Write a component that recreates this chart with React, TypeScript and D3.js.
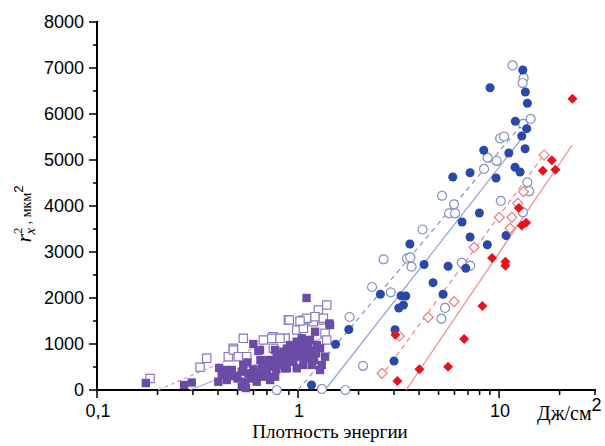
import React from 'react';
import * as d3 from 'd3';

// energy density (J/cm2) vs r_x^2 (um^2)
const purpleFilled: [number, number][] = [
  [0.175, 152], [0.271, 109], [0.296, 163], [0.405, 478], [0.417, 326], [0.442, 435],
  [0.45, 326], [0.401, 180], [0.534, 544], [0.525, 398], [0.566, 363], [0.545, 180],
  [0.551, 43], [0.525, 72], [0.599, 1000], [0.635, 848], [0.647, 870], [0.611, 289],
  [0.623, 363], [0.672, 289], [0.623, 180], [0.712, 652], [0.74, 507], [0.783, 761],
  [0.845, 833], [0.798, 544], [0.699, 326], [0.913, 978], [0.985, 1050], [1.043, 1124],
  [0.948, 615], [1.023, 724], [1.063, 544], [0.985, 472], [0.862, 472], [1.102, 2000],
  [1.215, 1267], [1.431, 1446], [1.147, 1087], [1.287, 907], [1.191, 689], [1.287, 435],
  [1.229, 798], [1.362, 724], [0.892, 804], [1.083, 870], [1.121, 978], [1.174, 544],
  [0.662, 544], [0.768, 870], [0.83, 724], [0.809, 580], [1.125, 1087], [1.239, 978],
  [1.443, 1413], [1.312, 544], [0.879, 472], [0.769, 289], [0.545, 72], [0.468, 435],
  [0.442, 217], [0.726, 217], [0.95, 850], [1.0, 900], [0.9, 650], [0.93, 700],
  [0.56, 600], [0.6, 450], [0.65, 650], [0.68, 500], [0.7, 400], [0.75, 650],
  [0.78, 450], [0.82, 650], [0.86, 600], [0.9, 800], [0.95, 750], [1.05, 850],
  [1.1, 700], [1.15, 850], [1.2, 650], [0.58, 250], [0.66, 420], [0.88, 900],
  [1.0, 1000], [1.05, 1000], [0.48, 300], [0.5, 250],
];

const purpleOpen: [number, number][] = [
  [0.1835, 250], [0.3255, 494], [0.3513, 689], [0.4499, 724], [0.4766, 907], [0.4766, 870],
  [0.5342, 1124], [0.5047, 724], [0.5556, 724], [0.6721, 1087], [0.7535, 1159], [0.8615, 1124],
  [0.7535, 907], [0.8949, 1522], [1.063, 1522], [0.985, 1304], [1.063, 1341], [1.191, 1485],
  [1.262, 1739], [1.389, 1848], [1.312, 1522], [1.362, 1233], [1.105, 1559], [1.215, 1594],
  [1.336, 1559], [0.74, 1124], [0.8138, 1124], [1.023, 1500], [1.389, 1087], [0.905, 1522],
];

const blueFilled: [number, number][] = [
  [13.12, 6957], [9.02, 6572], [13.51, 6478], [13.83, 6233], [12.05, 5841], [13.73, 5681],
  [12.97, 5522], [13.47, 5246], [8.39, 5211], [11.18, 5152], [12.01, 4841], [12.72, 4739],
  [5.885, 4631], [7.175, 4724], [9.66, 4609], [7.98, 3848], [6.545, 3652], [7.175, 3326],
  [10.83, 3359], [8.74, 3157], [3.6, 3174], [4.236, 2728], [5.576, 2689], [6.83, 2646],
  [4.695, 2333], [5.265, 2081], [2.568, 2081], [3.254, 2050], [3.434, 2044], [3.343, 1848],
  [3.17, 1783], [1.789, 1315], [1.537, 994], [3.038, 1311], [3.003, 630], [1.167, 109],
];

const blueOpen: [number, number][] = [
  [11.67, 7055], [13.24, 6783], [13.09, 6674], [14.35, 5892], [13.17, 5783], [10.12, 5468],
  [10.59, 5511], [8.76, 5050], [9.72, 4983], [8.42, 4805], [5.205, 4224], [5.97, 4037],
  [5.639, 3841], [6.04, 3841], [13.83, 4515], [14.1, 4320], [10.2, 4109], [13.14, 3863],
  [4.163, 3489], [2.664, 2841], [2.334, 2239], [2.892, 2124], [3.485, 2859], [3.62, 2881],
  [3.67, 2681], [6.52, 2768], [7.175, 2702], [5.387, 1783], [5.164, 1550], [1.804, 1587],
  [2.105, 526], [1.718, 0], [1.314, 22], [0.783, 0],
];

const redFilled: [number, number][] = [
  [23.16, 6333], [18.29, 4994], [16.5, 4768], [19.06, 4789], [12.53, 3957], [12.97, 3576],
  [13.62, 3637], [10.75, 2789], [10.75, 2702], [9.23, 2870], [8.26, 1826], [6.7, 1109],
  [5.576, 507], [4.013, 450], [3.119, 196], [3.049, 1202],
];

const redOpen: [number, number][] = [
  [16.75, 5109], [13.21, 4311], [12.39, 4059], [10.03, 3754], [11.57, 3754], [11.34, 3515],
  [7.51, 3102], [5.97, 1920], [4.435, 1580], [3.19, 1174], [2.618, 363],
];

// fitted lines: start and end points
const purpleDashFit: [number, number][] = [[0.201, 0], [1.287, 1522]];
const purpleSolidFit: [number, number][] = [[0.29, 0], [1.443, 1196]];
const blueDashFit: [number, number][] = [[1.0, 0], [14.1, 5957]];
const blueSolidFit: [number, number][] = [[1.362, 0], [13.47, 5565]];
const redDashFit: [number, number][] = [[2.56, 261], [17.1, 5174]];
const redSolidFit: [number, number][] = [[3.45, 0], [23.1, 5326]];

const yTicks = [0, 1000, 2000, 3000, 4000, 5000, 6000, 7000, 8000];
const xTickLabels: [number, string][] = [[0.1, '0,1'], [1, '1'], [10, '10']];

const W = 605;
const H = 446;

export default function App() {
  const x = d3.scaleLog().domain([0.1, 30]).range([97, 595]);
  const y = d3.scaleLinear().domain([0, 8000]).range([390, 22]);

  const line = d3.line<[number, number]>().x(d => x(d[0])).y(d => y(d[1]));
  const circle = d3.symbol().type(d3.symbolCircle).size(64)()!;
  const square = d3.symbol().type(d3.symbolSquare).size(70)()!;
  const diamond = d3.symbol().type(d3.symbolSquare).size(50)()!;

  const minorY = d3.range(500, 8000, 1000);
  const minorX: number[] = [];
  [0.1, 1, 10].forEach(dec => {
    for (let k = 2; k <= 9; k++) if (dec * k <= 30) minorX.push(dec * k);
  });

  const sans = 'Liberation Sans, Arial, sans-serif';
  const serif = 'Liberation Serif, Times New Roman, serif';

  const marks = (data: [number, number][], path: string, fill: string, stroke: string, rot = 0) =>
    data.map((d, i) => (
      <path
        key={i}
        d={path}
        transform={`translate(${x(d[0])},${y(d[1])})${rot ? ` rotate(${rot})` : ''}`}
        fill={fill}
        stroke={stroke}
        strokeWidth={fill === 'white' ? 1.2 : 0}
      />
    ));

  return (
    <svg width={W} height={H} style={{ position: 'absolute', left: 0, top: 0, background: 'white' }}>
      {/* axes */}
      <line x1={97} x2={97} y1={390} y2={21} stroke="black" strokeWidth={2} />
      <line x1={96} x2={596} y1={390} y2={390} stroke="black" strokeWidth={2} />
      {yTicks.map(t => (
        <g key={t}>
          <line x1={89} x2={97} y1={y(t)} y2={y(t)} stroke="black" strokeWidth={1.5} />
          <text x={84} y={y(t)} dy="0.36em" textAnchor="end" fontFamily={sans} fontSize={18}>{t}</text>
        </g>
      ))}
      {minorY.map(t => (
        <line key={t} x1={93} x2={97} y1={y(t)} y2={y(t)} stroke="black" strokeWidth={1.5} />
      ))}
      {xTickLabels.map(([v, s]) => (
        <g key={s}>
          <line x1={x(v)} x2={x(v)} y1={390} y2={398} stroke="black" strokeWidth={1.5} />
          <text x={x(v) + 1} y={417} textAnchor="middle" fontFamily={sans} fontSize={18}>{s}</text>
        </g>
      ))}
      {minorX.map(v => (
        <line key={v} x1={x(v)} x2={x(v)} y1={390} y2={395} stroke="black" strokeWidth={1.5} />
      ))}

      {/* fits */}
      <path d={line(purpleDashFit)!} fill="none" stroke="#b4a8d8" strokeWidth={1.2} strokeDasharray="4,3" />
      <path d={line(purpleSolidFit)!} fill="none" stroke="#b4a8d8" strokeWidth={1.2} />
      <path d={line(blueDashFit)!} fill="none" stroke="#8f9ac4" strokeWidth={1.3} strokeDasharray="5,4" />
      <path d={line(blueSolidFit)!} fill="none" stroke="#9aa6d8" strokeWidth={1.3} />
      <path d={line(redDashFit)!} fill="none" stroke="#f28c8c" strokeWidth={1.3} strokeDasharray="5,4" />
      <path d={line(redSolidFit)!} fill="none" stroke="#f28c8c" strokeWidth={1.3} />

      {/* points */}
      {marks(purpleOpen, square, 'white', '#8a79c2')}
      {marks(purpleFilled, square, '#6a4ca6', 'none')}
      {marks(blueOpen, circle, 'white', '#8190c6')}
      {marks(blueFilled, circle, '#2a48a8', 'none')}
      {marks(redOpen, diamond, 'white', '#f27c7c', 45)}
      {marks(redFilled, diamond, '#e8121c', 'none', 45)}

      {/* axis titles */}
      <text x={330} y={438} textAnchor="middle" fontFamily={serif} fontSize={19}>Плотность энергии</text>
      <text x={537} y={420} fontFamily={serif} fontSize={20}>
        Дж/см<tspan dy={-9} fontFamily={sans} fontSize={18}>2</tspan>
      </text>
      <text transform="translate(31,214) rotate(-90)" textAnchor="middle" fontFamily={serif} fontSize={14}>
        <tspan fontStyle="italic" fontSize={22}>r</tspan>
        <tspan dy={-9} fontSize={13}>2</tspan>
        <tspan dx={-7} dy={13} fontStyle="italic" fontSize={15}>x</tspan>
        <tspan dy={-4}> , мкм</tspan>
        <tspan dy={-8} fontSize={13} fontFamily={sans}>2</tspan>
      </text>
    </svg>
  );
}
